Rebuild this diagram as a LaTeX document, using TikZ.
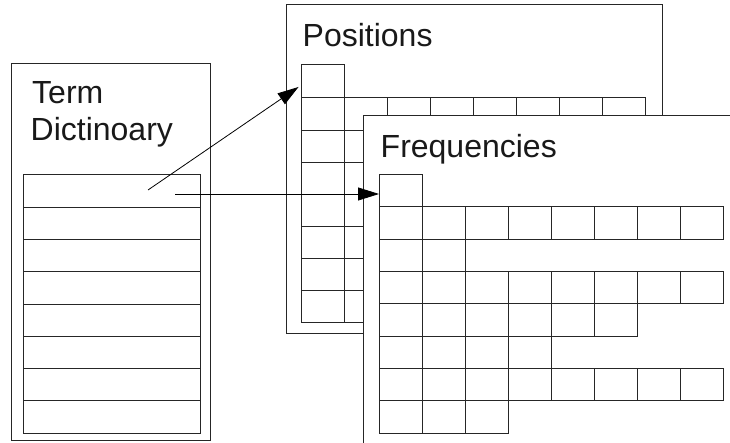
\documentclass[tikz,border=0pt]{standalone}
\usepackage{fontspec}
\setmainfont{Liberation Sans}
\usetikzlibrary{arrows.meta}
\begin{document}
\begin{tikzpicture}[x=1pt,y=-1pt,
  panel/.style={draw=black!85, line width=1pt, fill=white, rectangle,
    inner sep=0pt, outer sep=0pt, anchor=north west},
  cell/.style={draw=black!85, line width=1pt, fill=white, rectangle,
    minimum width=43pt, minimum height=32.2pt, inner sep=0pt, outer sep=0pt,
    anchor=north west},
  entry/.style={draw=black!85, line width=1pt, fill=white, rectangle,
    minimum width=177pt, minimum height=32.25pt, inner sep=0pt, outer sep=0pt,
    anchor=north west},
  title/.style={font=\fontsize{32}{37}\selectfont, anchor=base west,
    inner sep=0pt, text=black!90},
  link/.style={-{Triangle[length=21pt,width=13pt]}, line width=0.8pt}]

\clip (0,0) rectangle (730,443);
\fill[white] (0,0) rectangle (730,443);

% term dictionary
\node[panel, minimum width=199pt, minimum height=376pt] (dict) at (11,64) {};
\node[title] (termlbl) at (32,104) {Term};
\node[title] (dictlbl) at (30.5,141) {Dictinoary};
\foreach \i in {0,...,7}
  \node[entry] (d\i) at (23,{175+\i*32.25}) {};

% positions file
\node[panel, minimum width=376pt, minimum height=328pt] (pos) at (286,5) {};
\node[title] (poslbl) at (302.5,47) {Positions};
\node[cell, minimum height=33pt] (p0) at (301,65) {};
\foreach \c in {0,...,7}
  \node[cell] (p1-\c) at ({301+43*\c},98) {};
\foreach \r in {2,...,7}
  \foreach \c in {0,1}
    \node[cell] (p\r-\c) at ({301+43*\c},{98+32.1*(\r-1)}) {};

% frequencies file
\node[panel, minimum width=400pt, minimum height=360pt] (freq) at (363,116) {};
\node[title] (freqlbl) at (380.5,158) {Frequencies};
\node[cell] (f0) at (379,175) {};
\foreach \r/\n in {1/8,2/2,3/8,4/6,5/4,6/8,7/3}
  \foreach \c in {1,...,\n}
    \node[cell] (f\r-\c) at ({379+43*(\c-1)},{207+32.3*(\r-1)}) {};

% pointers from the dictionary into both files
\coordinate (src1) at (148,190);
\coordinate (src2) at (175,194);
\draw[link, shorten >=3pt] (src1) -- (p0.190);
\draw[link] (src2) -- (src2 -| f0.west);
\end{tikzpicture}
\end{document}
